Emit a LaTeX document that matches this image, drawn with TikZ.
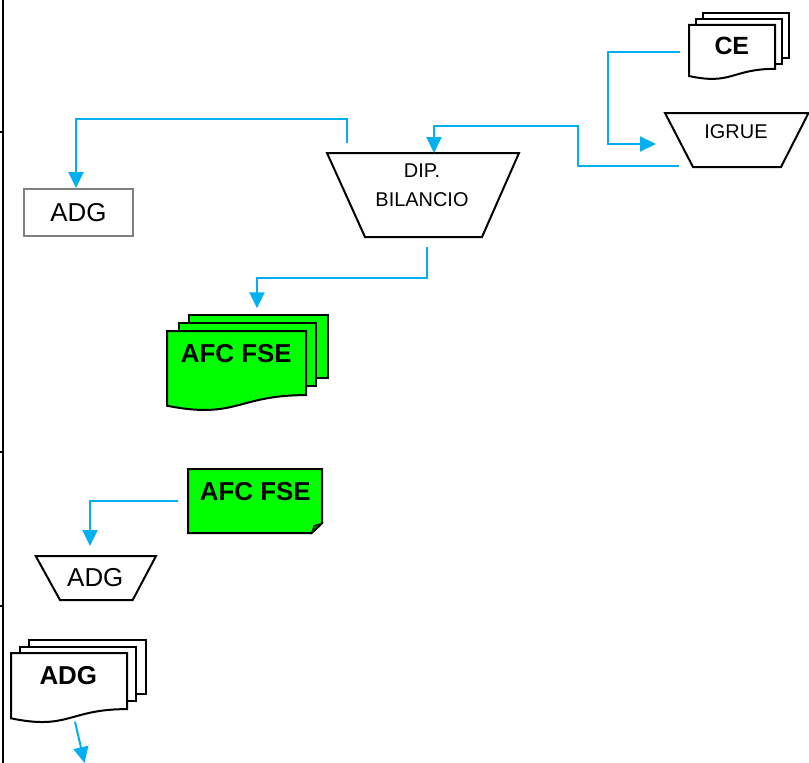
\documentclass[tikz,border=0pt]{standalone}
\usepackage{fontspec}
\setmainfont{Liberation Sans}
\usetikzlibrary{arrows.meta}
\definecolor{connc}{RGB}{0,176,240}
\definecolor{docgreen}{RGB}{0,255,0}
\definecolor{boxgray}{RGB}{128,128,128}
\begin{document}
\begin{tikzpicture}[x=1bp,y=-1bp,
  conn/.style={draw=connc,line width=2bp},
  arr/.style={-{Triangle[length=16bp,width=15bp]}},
  shp/.style={draw=black,line width=2bp,line join=miter},
  reg/.style={inner sep=0pt,font=\fontsize{26}{30}\selectfont},
  small/.style={inner sep=0pt,font=\fontsize{20}{29}\selectfont,align=center},
  bld/.style={inner sep=0pt,font=\fontsize{26}{30}\selectfont\bfseries},
  docsheet/.style={shp,fill=white}]
\useasboundingbox (0,0) rectangle (809,763);

% left border
\draw[line width=2bp] (3,0) -- (3,763);
\foreach \yy in {132,452,606} \draw[line width=2bp] (0,\yy) -- (3,\yy);

% ADG box (top)
\node[draw=boxgray,line width=2bp,minimum width=109bp,minimum height=47bp,reg] (adg1) at (78.5,212.5) {ADG};

% DIP. BILANCIO trapezoid
\draw[shp,fill=white] (327,153) -- (519,153) -- (482,237) -- (365,237) -- cycle;
\node[small] (dip) at (422,185.3) {DIP.\\BILANCIO};
\coordinate (dipA) at (347,143);
\coordinate (dipIn) at (434,153);
\coordinate (dipB) at (427,247);

% IGRUE trapezoid
\draw[shp,fill=white] (665,113) -- (808.5,113) -- (781,167) -- (693,167) -- cycle;
\node[small] (igrue) at (736,131.3) {IGRUE};
\coordinate (igrA) at (679,166);
\coordinate (igrIn) at (656,144);

% CE stack
\draw[docsheet] (703,13) rectangle (789,58);
\draw[docsheet] (696,19) rectangle (782,64);
\draw[docsheet] (689,25) -- (775,25) -- (775,68.85)
  .. controls (731.85,68.85) and (731.85,85.4) .. (689,76) -- cycle;
\node[inner sep=0pt,font=\fontsize{25}{30}\selectfont\bfseries] (ce) at (731.8,46.3) {CE};
\coordinate (ceA) at (680,52);

% AFC FSE stack
\draw[shp,fill=docgreen] (189,315) rectangle (328,378);
\draw[shp,fill=docgreen] (179,323) rectangle (316,386);
\draw[shp,fill=docgreen] (167,331) -- (306,331) -- (306,395.1)
  .. controls (236.65,395.1) and (236.65,419.6) .. (167,405.7) -- cycle;
\node[bld] (afc1) at (236.3,353.3) {AFC FSE};
\coordinate (afc1In) at (257,308.3);

% AFC FSE card with folded corner
\draw[shp,fill=docgreen] (188,469) -- (322,469) -- (322,523.3) -- (311.7,533) -- (188,533) -- cycle;
\draw[draw=black,line width=1bp,fill=green!35!black] (311.7,533) -- (314,525.6) -- (322,523.3) -- cycle;
\node[bld] (afc2) at (255.3,491.8) {AFC FSE};
\coordinate (afc2A) at (178.3,501);

% ADG trapezoid
\draw[shp,fill=white] (35.7,556) -- (156,556) -- (132.7,600) -- (60,600) -- cycle;
\node[reg] (adg2) at (95.3,577.5) {ADG};
\coordinate (adg2In) at (90,546);

% ADG stack
\draw[docsheet] (29,640) rectangle (146,694);
\draw[docsheet] (20,647) rectangle (136,701);
\draw[docsheet] (11,653) -- (127,653) -- (127,709.1)
  .. controls (68.7,709.1) and (68.7,730.4) .. (11,718.3) -- cycle;
\node[bld] (adg3) at (68.3,675.5) {ADG};
\coordinate (adg3A) at (75,721.7);
\coordinate (outB) at (84.5,763);

% connectors
\draw[conn,arr] (dipA) -- (347,119) -| ([xshift=-2.5bp]adg1.north);
\draw[conn,arr] (igrA) -- (578,166) |- (434,126) -- (dipIn);
\draw[conn,arr] (ceA) -- (608,52) |- (igrIn);
\draw[conn,arr] (dipB) -- (427,278) -| (afc1In);
\draw[conn,arr] (afc2A) -| (adg2In);
\draw[conn,arr] (adg3A) -- (outB);
\end{tikzpicture}
\end{document}
